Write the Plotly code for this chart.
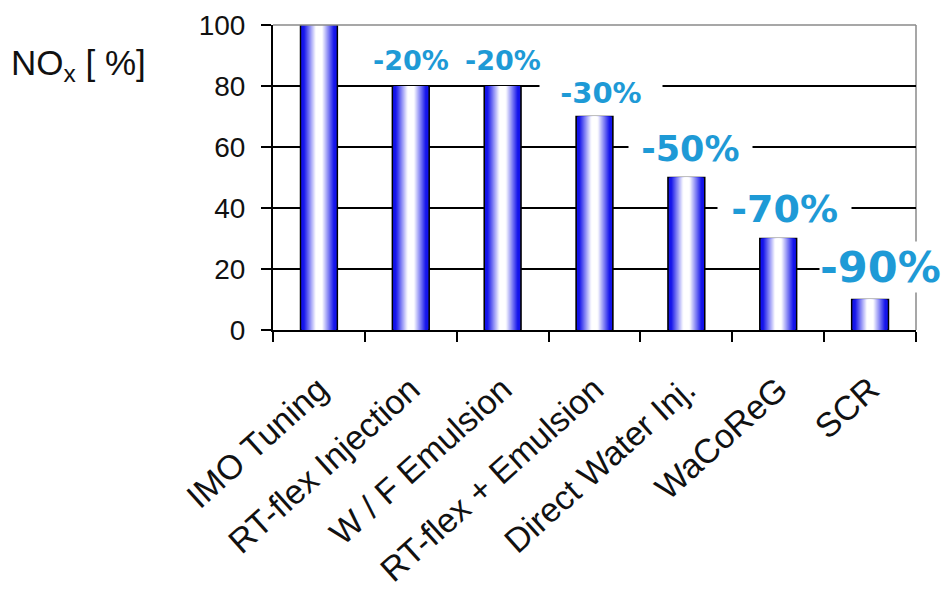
import plotly.graph_objects as go

# ---- data ----
categories = ["IMO Tuning", "RT-flex Injection", "W / F Emulsion",
              "RT-flex + Emulsion", "Direct Water Inj.", "WaCoReG", "SCR"]
nox_values = [100, 80, 80, 70, 50, 30, 10]
reduction_labels = ["", "-20%", "-20%", "-30%", "-50%", "-70%", "-90%"]
y_tick_values = [0, 20, 40, 60, 80, 100]

# ---- styles ----
label_sizes = [0, 27, 27, 29, 35, 38, 43]
label_yshift = [0, 26, 26, 24, 29, 30, 33]
label_xshift = [0, 0, 0, 6, 4, 6, 10]
label_pad = [0, 0, 0, 2, 1, 1, 0]
label_color = "#1E9AD6"

edge_rgb = (20, 20, 235)
n_layers = 18
outer_width = 0.40

fig = go.Figure()
for k in range(n_layers):
    f = k / n_layers
    t = max(0.0, min(1.0, (f - 0.15) / 0.65))
    r = int(edge_rgb[0] + (255 - edge_rgb[0]) * t)
    g = int(edge_rgb[1] + (255 - edge_rgb[1]) * t)
    b = int(edge_rgb[2] + (255 - edge_rgb[2]) * t)
    fig.add_trace(go.Bar(
        x=categories, y=nox_values,
        width=outer_width * (1 - f),
        marker=dict(color=f"rgb({r},{g},{b})",
                    line=dict(color="black", width=1.6 if k == 0 else 0)),
        showlegend=False, hoverinfo="x+y" if k == 0 else "skip",
    ))

annotations = []
for i, (cat, val, lab) in enumerate(zip(categories, nox_values, reduction_labels)):
    if not lab:
        continue
    pad = "\u00a0" * label_pad[i]
    annotations.append(dict(
        x=cat, y=val, xref="x", yref="y",
        text=pad + lab + pad,
        showarrow=False, xanchor="center", yanchor="middle",
        yshift=label_yshift[i], xshift=label_xshift[i],
        font=dict(family="DejaVu Sans", size=label_sizes[i], color=label_color, weight="bold"),
        bgcolor="white", borderpad=0,
    ))

annotations.append(dict(
    x=-0.302, y=0.869, xref="paper", yref="paper",
    text="NO<sub>x</sub> [ %]", showarrow=False,
    xanchor="center", yanchor="middle",
    font=dict(family="Liberation Sans, Arial", size=35, color="#111"),
))

fig.update_layout(
    width=951, height=597,
    margin=dict(l=273, r=35, t=25, b=267),
    paper_bgcolor="white", plot_bgcolor="white",
    barmode="overlay",
    annotations=annotations,
    shapes=[
        dict(type="line", xref="paper", yref="paper", x0=0, x1=1, y0=1, y1=1,
             line=dict(color="#8a8a8a", width=1.5), layer="above"),
        dict(type="line", xref="paper", yref="paper", x0=1, x1=1, y0=0, y1=1,
             line=dict(color="#8a8a8a", width=1.5), layer="below"),
    ],
)

fig.update_xaxes(
    type="category", range=[-0.5, len(categories) - 0.5], autorange=False,
    automargin=False,
    showline=True, linecolor="black", linewidth=2,
    ticks="outside", tickson="boundaries", ticklen=10, tickwidth=1.5, tickcolor="black",
    tickangle=-42, ticklabelstandoff=24, showgrid=False,
    tickfont=dict(family="Liberation Sans, Arial", size=34, color="#111"),
)
fig.update_yaxes(
    range=[0, 100], autorange=False, tickvals=y_tick_values, automargin=False,
    showline=True, linecolor="black", linewidth=2,
    ticks="outside", ticklen=10, tickwidth=1.5, tickcolor="black",
    showgrid=True, gridcolor="black", gridwidth=1.5, zeroline=False,
    ticklabelstandoff=10,
    tickfont=dict(family="Liberation Sans, Arial", size=28, color="#111"),
)

fig.write_html("out.html")
